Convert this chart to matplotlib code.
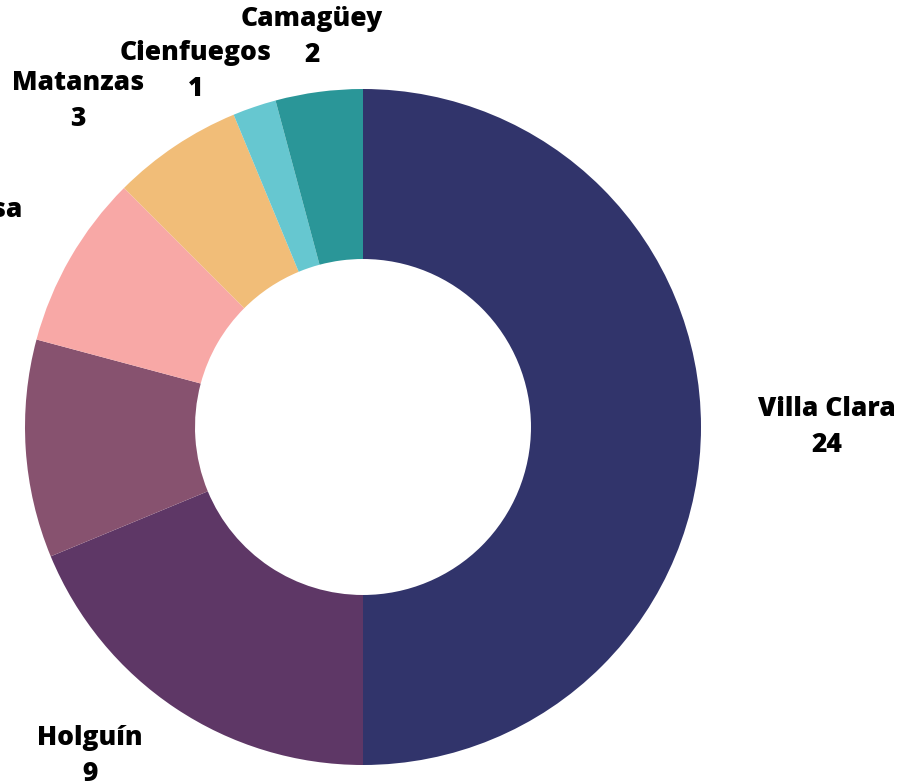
import numpy as np
import matplotlib
matplotlib.use('Agg')
import matplotlib.pyplot as plt

# Data (clockwise from 12 o'clock)
provinces = ['Villa Clara', 'Holguín', 'La Habana', 'Artemisa', 'Matanzas', 'Cienfuegos', 'Camagüey']
counts = [24, 9, 5, 4, 3, 1, 2]
colors = ['#31346B', '#5E3766', '#87526F', '#F8A8A6', '#F1BD78', '#66C7D0', '#2A9698']

# label placement tweaks (radius, angle shift in degrees)
label_r = [1.373, 1.265, 1.60, 1.33, 1.281, 1.163, 1.164]
label_dtheta = [0, 6.0, 0, -3.7, -7.4, -6.4, 0]

plt.rcParams['font.family'] = ['Open Sans', 'DejaVu Sans']

fig = plt.figure(figsize=(9.14, 7.84), dpi=100)
ax = fig.add_axes([0, 0, 1, 1])

ax.pie(counts, colors=colors, startangle=90, counterclock=False, radius=1,
       wedgeprops=dict(width=0.503, linewidth=0))

# 1 data unit = 338 px, centre at (363, 427) px from top-left
scale = 338.0
ax.set_xlim(-363 / scale, (914 - 363) / scale)
ax.set_ylim(-(784 - 427) / scale, 427 / scale)
ax.set_aspect('auto')
ax.axis('off')

total = sum(counts)
start = 0.0
for name, val, r, dt in zip(provinces, counts, label_r, label_dtheta):
    mid = start + val / total * 360 / 2
    theta = np.radians(mid + dt)
    x = r * np.sin(theta)
    y = r * np.cos(theta)
    ax.text(x, y, f'{name}\n{val}', ha='center', va='center', fontsize=19,
            fontweight=800, color='black', linespacing=1.5, clip_on=False)
    start += val / total * 360

fig.savefig('out.png', dpi=100)
